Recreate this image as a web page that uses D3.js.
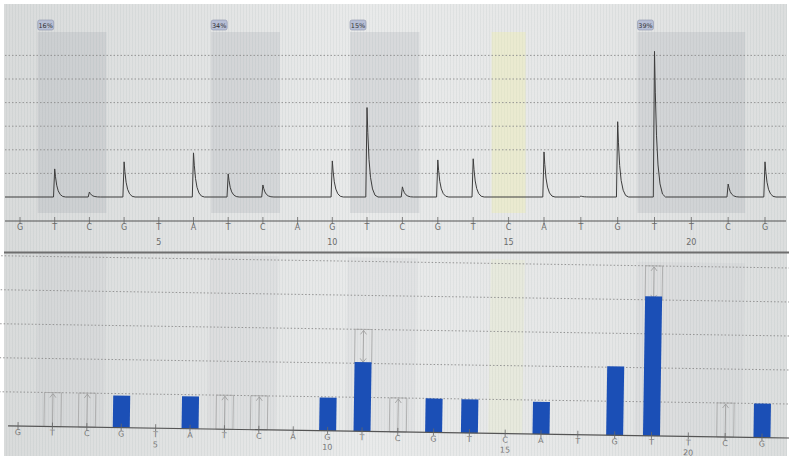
<!DOCTYPE html>
<html>
<head>
<meta charset="utf-8">
<script src="https://cdn.jsdelivr.net/npm/d3@7"></script>
<style>
  body { margin: 0; background: #fff; }
  svg { display: block; }
  text { font-family: "DejaVu Sans", sans-serif; }
</style>
</head>
<body>
<script>
// dispensation order (22 nucleotides)
const dispensation = ["G","T","C","G","T","A","T","C","A","G","T","C","G","T","C","A","T","G","T","T","C","G"];
const positions = d3.range(1, 23);
const posTickLabels = [5, 10, 15, 20];

// pyrogram peak heights (top panel, signal units)
const peakSignal = [0, 11.9, 2.1, 14.9, 0, 18.7, 9.8, 5.1, 0, 15.3, 37.9, 4.3, 15.7, 16.2, 0, 19.1, 0.4, 31.9, 61.7, 0, 5.5, 14.9];
const topGrid = [10, 20, 30, 40, 50, 60];

// histogram bars (bottom panel, incorporations)
const barValues = [0, 0, 0, 0.94, 0, 0.95, 0, 0, 0, 0.98, 2.04, 0, 1.0, 0.99, 0, 0.95, 0, 2.03, 4.1, 0, 0, 1.0];
const bottomGrid = [1, 2, 3, 4, 5];

// variable position boxes (expected range)
const boxPos = [2, 3, 7, 8, 11, 12, 19, 21];
const boxLo  = [0, 0, 0, 0, 2, 0, 4, 0];
const boxHi  = [1, 1, 1, 1, 3, 1, 5, 1];

// CpG sites and methylation %
const cpgStart  = [2, 7, 11, 19];
const cpgEnd    = [3, 8, 12, 21];
const cpgLabels = ["16%", "34%", "15%", "39%"];
const controlPos = [15];

const W = 789, H = 459;
const svg = d3.select("body").append("svg").attr("width", W).attr("height", H);

const defs = svg.append("defs");
const grad = defs.append("linearGradient").attr("id", "bg");
grad.append("stop").attr("offset", "0%").attr("stop-color", "#d9dbdb");
grad.append("stop").attr("offset", "45%").attr("stop-color", "#e9eaea");
grad.append("stop").attr("offset", "75%").attr("stop-color", "#e6e7e7");
grad.append("stop").attr("offset", "100%").attr("stop-color", "#dcdede");
const pat = defs.append("pattern").attr("id", "stripes")
  .attr("width", 3).attr("height", 10).attr("patternUnits", "userSpaceOnUse");
pat.append("rect").attr("width", 1).attr("height", 10).attr("fill", "#9aa").attr("opacity", 0.12);

svg.append("rect").attr("x", 4).attr("y", 4).attr("width", 783).attr("height", 452).attr("fill", "url(#bg)");
svg.append("rect").attr("x", 4).attr("y", 4).attr("width", 783).attr("height", 452).attr("fill", "url(#stripes)");

// ---------- top panel: pyrogram ----------
const xTop = d3.scaleLinear().domain([1, 11, 16, 22]).range([20, 367, 544, 765]);
const yTop = d3.scaleLinear().domain([0, 60]).range([197, 55.4]);
const half = 17;

const topG = svg.append("g");

topG.selectAll(".cpg")
  .data(cpgStart)
  .join("rect")
  .attr("x", (d) => xTop(d) - half)
  .attr("y", 32)
  .attr("width", (d, i) => xTop(cpgEnd[i]) - xTop(d) + 2 * half)
  .attr("height", 181)
  .attr("fill", "#8a8f9c")
  .attr("opacity", 0.18);

topG.selectAll(".ctrl")
  .data(controlPos)
  .join("rect")
  .attr("x", (d) => xTop(d) - half)
  .attr("y", 32)
  .attr("width", 2 * half)
  .attr("height", 181)
  .attr("fill", "#eef0a0")
  .attr("opacity", 0.32);

const lab = topG.selectAll(".lab")
  .data(cpgStart)
  .join("g")
  .attr("transform", (d) => `translate(${xTop(d) - half},20)`);
lab.append("rect").attr("width", 16).attr("height", 10).attr("rx", 2)
  .attr("fill", "#b7bfd6").attr("stroke", "#8e96ad").attr("stroke-width", 0.6);
lab.append("text").attr("x", 8).attr("y", 7.5).attr("text-anchor", "middle")
  .attr("font-size", 6.5).attr("fill", "#333")
  .text((d, i) => cpgLabels[i]);

topG.selectAll(".grid")
  .data(topGrid)
  .join("line")
  .attr("x1", 5).attr("x2", 786)
  .attr("y1", (d) => yTop(d)).attr("y2", (d) => yTop(d))
  .attr("stroke", "#8c8c8c").attr("stroke-width", 0.9).attr("stroke-dasharray", "1.5,2");

// trace: baseline with sharp peaks and decaying tails
const tail = [[-1.2, 0], [0, 1], [0.8, 0.72], [2, 0.42], [3.5, 0.22], [5.5, 0.09], [8, 0.02], [11, 0]];
const pts = [[5, 0]];
positions.forEach((p, i) => {
  if (peakSignal[i] > 0) tail.forEach(([dx, f]) => pts.push([xTop(p) + dx, peakSignal[i] * f]));
});
pts.push([786, 0]);
const trace = d3.line().x((d) => d[0]).y((d) => yTop(d[1]));
topG.append("path")
  .attr("d", trace(pts))
  .attr("fill", "none").attr("stroke", "#3d3d3d").attr("stroke-width", 1);

// axis
topG.append("line").attr("x1", 5).attr("x2", 786).attr("y1", 221).attr("y2", 221)
  .attr("stroke", "#555").attr("stroke-width", 1.2);
topG.selectAll(".tick")
  .data(positions)
  .join("line")
  .attr("x1", (d) => xTop(d)).attr("x2", (d) => xTop(d))
  .attr("y1", 217).attr("y2", 224)
  .attr("stroke", "#666").attr("stroke-width", 0.8);
topG.selectAll(".nt")
  .data(positions)
  .join("text")
  .attr("x", (d) => xTop(d)).attr("y", 230)
  .attr("text-anchor", "middle").attr("font-size", 8).attr("fill", "#6a6a6a")
  .text((d, i) => dispensation[i]);
topG.selectAll(".num")
  .data(posTickLabels)
  .join("text")
  .attr("x", (d) => xTop(d)).attr("y", 245)
  .attr("text-anchor", "middle").attr("font-size", 8).attr("fill", "#6a6a6a")
  .text((d) => d);

svg.append("line").attr("x1", 4).attr("x2", 789).attr("y1", 252.5).attr("y2", 252.5)
  .attr("stroke", "#6e6e6e").attr("stroke-width", 2);

// ---------- bottom panel: histogram ----------
const xBot = d3.scaleLinear().domain([1, 11, 16, 22]).range([18, 362, 541, 762]);
const yBot = d3.scaleLinear().domain([0, 5]).range([432, 262]);
const bw = 17;

const bot = svg.append("g").attr("transform", "rotate(0.89, 402, 432)");

bot.selectAll(".cpgb")
  .data(cpgStart)
  .join("rect")
  .attr("x", (d) => xBot(d) - half)
  .attr("y", 258)
  .attr("width", (d, i) => xBot(cpgEnd[i]) - xBot(d) + 2 * half)
  .attr("height", 174)
  .attr("fill", "#8a8f9c").attr("opacity", 0.07);
bot.selectAll(".ctrlb")
  .data(controlPos)
  .join("rect")
  .attr("x", (d) => xBot(d) - half)
  .attr("y", 258)
  .attr("width", 2 * half).attr("height", 174)
  .attr("fill", "#eef0a0").attr("opacity", 0.15);

bot.selectAll(".gridb")
  .data(bottomGrid)
  .join("line")
  .attr("x1", -5).attr("x2", 800)
  .attr("y1", (d) => yBot(d)).attr("y2", (d) => yBot(d))
  .attr("stroke", "#8c8c8c").attr("stroke-width", 0.9).attr("stroke-dasharray", "1.5,2");

// expected-range boxes with arrows
const boxes = bot.selectAll(".box")
  .data(boxPos)
  .join("g");
boxes.append("rect")
  .attr("x", (d) => xBot(d) - bw / 2)
  .attr("y", (d, i) => yBot(boxHi[i]))
  .attr("width", bw)
  .attr("height", (d, i) => yBot(boxLo[i]) - yBot(boxHi[i]))
  .attr("fill", "none").attr("stroke", "#a6a6a6").attr("stroke-width", 0.8);
boxes.append("line")
  .attr("x1", (d) => xBot(d)).attr("x2", (d) => xBot(d))
  .attr("y1", (d, i) => yBot(boxLo[i])).attr("y2", (d, i) => yBot(boxHi[i]) + 1)
  .attr("stroke", "#9a9a9a").attr("stroke-width", 0.8);
boxes.append("path")
  .attr("d", (d, i) => {
    const x = xBot(d), y = yBot(boxHi[i]) + 1;
    return `M${x - 3},${y + 4}L${x},${y}L${x + 3},${y + 4}`;
  })
  .attr("fill", "none").attr("stroke", "#9a9a9a").attr("stroke-width", 0.8);
boxes.filter((d, i) => boxLo[i] > 0).append("path")
  .attr("d", (d) => {
    const i = boxPos.indexOf(d);
    const x = xBot(d), y = yBot(boxLo[i]) - 1;
    return `M${x - 3},${y - 4}L${x},${y}L${x + 3},${y - 4}`;
  })
  .attr("fill", "none").attr("stroke", "#9a9a9a").attr("stroke-width", 0.8);

bot.selectAll(".bar")
  .data(positions.filter((p, i) => barValues[i] > 0))
  .join("rect")
  .attr("x", (d) => xBot(d) - bw / 2)
  .attr("y", (d) => yBot(barValues[d - 1]))
  .attr("width", bw)
  .attr("height", (d) => yBot(0) - yBot(barValues[d - 1]))
  .attr("fill", "#1b4fb6");

bot.append("line").attr("x1", 8).attr("x2", 800).attr("y1", 432).attr("y2", 432)
  .attr("stroke", "#555").attr("stroke-width", 1.2);
bot.selectAll(".tickb")
  .data(positions)
  .join("line")
  .attr("x1", (d) => xBot(d)).attr("x2", (d) => xBot(d))
  .attr("y1", 428).attr("y2", 435)
  .attr("stroke", "#666").attr("stroke-width", 0.8);
bot.selectAll(".ntb")
  .data(positions)
  .join("text")
  .attr("x", (d) => xBot(d)).attr("y", 441)
  .attr("text-anchor", "middle").attr("font-size", 8).attr("fill", "#777")
  .text((d, i) => dispensation[i]);
bot.selectAll(".numb")
  .data(posTickLabels)
  .join("text")
  .attr("x", (d) => xBot(d)).attr("y", 451)
  .attr("text-anchor", "middle").attr("font-size", 8).attr("fill", "#777")
  .text((d) => d);
</script>
</body>
</html>
